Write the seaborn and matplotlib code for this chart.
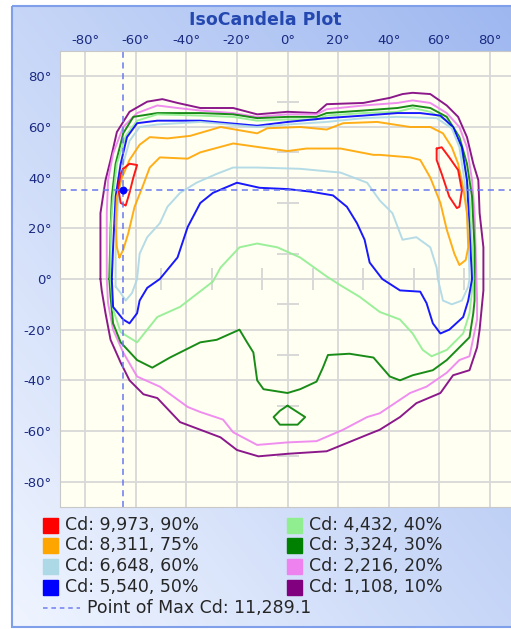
import numpy as np
import pandas as pd
import matplotlib
matplotlib.use("Agg")
import matplotlib.pyplot as plt
from matplotlib.patches import Rectangle
from matplotlib.lines import Line2D
import seaborn as sns

# iso-candela levels (legend order)
levels = [9973, 8311, 6648, 5540, 4432, 3324, 2216, 1108]
percents = [90, 75, 60, 50, 40, 30, 20, 10]
level_colors = ["red", "orange", "lightblue", "blue", "lightgreen", "green", "violet", "purple"]

# point of max candela
max_h, max_v = -65, 35
max_cd = 11289.1

grid_ticks = list(range(-80, 81, 20))
cross_ticks = [-70, -50, -30, -10, 10, 30, 50, 70]

# contour lines, (horizontal deg, vertical deg)
cd_90_left = [(-65, 43.5), (-62.5, 45.5), (-59.5, 45), (-61, 40), (-62.5, 34), (-64, 29),
              (-66, 30), (-67, 36), (-66, 41.5)]
cd_90_right = [(59, 51.5), (61, 52), (64, 48), (67.5, 43), (69, 35), (68, 28.5), (67, 28),
               (64, 32.5), (61, 41.5), (59, 47)]
cd_75 = [(-66.5, 8.5), (-67.5, 12.5), (-68, 22), (-67.5, 32.5), (-65.5, 40), (-62.5, 47),
         (-58.5, 53), (-54.5, 56), (-47.5, 55.5), (-38.5, 56.5), (-26.5, 60), (-12, 57.5),
         (-8, 59.5), (5, 60), (15.5, 59), (22, 61.5), (35.5, 62), (48.5, 60), (56.5, 60),
         (61.5, 57.5), (65, 52), (67.5, 45.5), (69.5, 36), (71, 26), (71.5, 12.5), (70.5, 7.5),
         (68, 5.5), (66, 10), (63, 19.5), (60.5, 30), (56.5, 40), (52.5, 47), (48.5, 48),
         (36.5, 49), (34, 49), (21, 51.5), (7.5, 51.5), (0, 50.5), (-11, 52), (-21.5, 53.5),
         (-34.5, 50), (-39.5, 47.5), (-50.5, 48), (-54.5, 44), (-57.5, 36), (-60.5, 28.5),
         (-63, 18), (-65, 11.5)]
cd_60 = [(-68, -3), (-68, 12.5), (-67, 32.5), (-65, 45.5), (-62.5, 54.5), (-58.5, 60),
         (-51.5, 61), (-34.5, 62), (-12, 60), (0, 61), (15.5, 62), (30, 63.5), (43.5, 64),
         (59, 63.5), (65, 59.5), (68, 52), (70, 39), (71.5, 19.5), (72, 0), (71.5, -3),
         (69, -8.5), (65, -10), (61.5, -8.5), (59.5, 0), (59, 4.5), (56.5, 12.5), (51, 16.5),
         (45.5, 15.5), (41.5, 26), (36.5, 31), (31.5, 38), (21, 42), (5, 43.5), (-12, 44),
         (-21.5, 44), (-28, 41.5), (-36, 38), (-42.5, 34), (-47.5, 28.5), (-50.5, 22),
         (-55.5, 16.5), (-58.5, 10), (-59.5, 0), (-61.5, -5.5), (-64, -8.5), (-66, -5.5)]
cd_50 = [(-69.5, 0), (-69, 12.5), (-68, 32.5), (-66, 45.5), (-63.5, 56), (-59.5, 61.5),
         (-51.5, 62.5), (-34.5, 62.5), (-12, 60.5), (0, 62), (15.5, 63.5), (30, 64.5),
         (43.5, 65.5), (52.5, 65.5), (60.5, 64.5), (65.5, 60), (69, 52), (71, 39), (72, 19.5),
         (73, 0), (71.5, -8.5), (69.5, -15), (64, -20), (60.5, -21.5), (57.5, -17.5), (55, -9.5),
         (52.5, -5), (44.5, -4.5), (37.5, 0), (32.5, 6.5), (30.5, 15.5), (27.5, 22), (23.5, 28.5),
         (18, 33), (9, 34.5), (0, 35.5), (-11, 36), (-20, 38), (-29.5, 34), (-34.5, 30),
         (-39.5, 20.5), (-43.5, 8.5), (-50.5, 0), (-55.5, -3.5), (-58.5, -8.5), (-59.5, -13.5),
         (-62.5, -17.5), (-65, -16), (-69, -11)]
cd_40 = [(-70, 0), (-70, 19.5), (-69, 32.5), (-67.5, 45.5), (-64, 56.5), (-59.5, 62.5),
         (-51.5, 65), (-34.5, 64.5), (-21.5, 64), (-12, 62.5), (0, 63), (11.5, 63), (15.5, 64.5),
         (30, 65.5), (43.5, 66), (49.5, 67.5), (56.5, 66), (63, 62.5), (67.5, 56), (70, 45.5),
         (72, 32.5), (73, 12.5), (73.5, 0), (72, -13.5), (69.5, -21.5), (63, -28), (57, -30.5),
         (53.5, -28), (49.5, -21.5), (44.5, -16), (36.5, -13), (28.5, -7), (21, -2.5), (15.5, 1),
         (5, 8.5), (-4, 12.5), (-12, 14), (-19, 12.5), (-26.5, 4.5), (-29.5, -1), (-42.5, -11),
         (-51.5, -15), (-55.5, -20), (-59.5, -25), (-66, -21), (-69, -12)]
cd_30 = [(-70.5, 0), (-70, 19.5), (-69.5, 32.5), (-68, 45.5), (-65, 57.5), (-61, 64),
         (-51.5, 65.5), (-34.5, 65.5), (-21.5, 65), (-12, 63.5), (0, 64), (11.5, 64), (15.5, 65.5),
         (30, 66.5), (43.5, 67.5), (49.5, 68.5), (56.5, 67.5), (63, 64), (68, 56), (71, 45.5),
         (73, 32.5), (74, 12.5), (74, -8.5), (73.5, -13.5), (72, -23), (68, -27), (63, -32),
         (57.5, -36), (49.5, -38), (44.5, -40), (40.5, -38.5), (34, -31), (24.5, -29.5), (16, -30),
         (14, -35), (11.5, -40.5), (5, -43.5), (0, -45), (-9.5, -43.5), (-12, -40), (-13.5, -29),
         (-16, -25), (-19, -20), (-28, -24), (-34.5, -25), (-38.5, -27), (-46.5, -31),
         (-53.5, -35), (-59.5, -32), (-66, -25), (-69, -17.5), (-70, -7)]
cd_30_island = [(0, -50), (7, -54.5), (4, -57.5), (-3, -57.5), (-5.5, -54.5), (-3, -52)]
cd_20 = [(-71.5, 0), (-71.5, 26), (-71, 39), (-69, 49.5), (-65, 60), (-59.5, 65.5),
         (-51.5, 68.5), (-43.5, 67.5), (-34.5, 66.5), (-21.5, 65.5), (-12, 64), (0, 65),
         (11.5, 65), (15.5, 67), (30, 68.5), (43.5, 69.5), (49.5, 70.5), (56.5, 69.5), (63, 65.5),
         (68, 60), (71, 52), (73, 39), (74, 26), (75, -8.5), (75, -16), (72, -30.5), (68, -32),
         (63, -37), (55, -42.5), (48.5, -45), (36.5, -53), (31.5, -54.5), (22, -59.5),
         (11.5, -64), (0, -64.5), (-12, -65.5), (-21.5, -60.5), (-25.5, -55.5), (-34.5, -52.5),
         (-39.5, -50.5), (-50.5, -42.5), (-59.5, -38.5), (-65, -29), (-69, -20), (-71, -9.5)]
cd_10 = [(-74, 0), (-74, 26), (-72, 39), (-70, 47), (-67.5, 58), (-62.5, 66), (-55.5, 70),
         (-49.5, 71), (-43.5, 69.5), (-34.5, 67.5), (-21.5, 67.5), (-12, 65), (0, 66),
         (11.5, 65.5), (15.5, 69), (30, 69.5), (40.5, 71.5), (45.5, 73), (49.5, 73.5),
         (56.5, 73), (63, 68.5), (67.5, 64), (71, 56), (73.5, 45.5), (75.5, 39), (76, 26),
         (77.5, 12.5), (77.5, -4.5), (76, -20), (75, -27), (72, -36), (65.5, -38), (60.5, -45),
         (51, -49), (44.5, -54.5), (36.5, -59.5), (31.5, -61.5), (15.5, -68), (0, -69),
         (-11.5, -70), (-20, -67.5), (-26.5, -62.5), (-42.5, -56.5), (-51.5, -47), (-57, -45.5),
         (-62.5, -40), (-66, -33), (-70, -24), (-72, -13.5), (-73.5, -4.5)]

contours = [(1108, cd_10), (2216, cd_20), (3324, cd_30), (3324, cd_30_island), (4432, cd_40),
            (5540, cd_50), (6648, cd_60), (8311, cd_75), (9973, cd_90_left), (9973, cd_90_right)]

W, H = 511, 629


def fx(px):
    return px / W


def fy(py):
    return 1 - py / H


def main():
    sns.set_style("white")
    plt.rcParams["font.family"] = ["DejaVu Sans"]

    # closed loops -> long table
    rows = []
    for i, (lvl, pts) in enumerate(contours):
        for h, v in pts + pts[:1]:
            rows.append({"h": h, "v": v, "level": lvl, "loop": i})
    df = pd.DataFrame(rows)

    fig = plt.figure(figsize=(W / 100, H / 100), dpi=100)

    # panel background with a soft blue gradient
    bg = fig.add_axes([0, 0, 1, 1])
    bg.set_xlim(0, W)
    bg.set_ylim(H, 0)
    bg.axis("off")
    gx, gy = np.meshgrid(np.linspace(0, 1, 200), np.linspace(0, 1, 200))
    t = 0.5 * gx + 0.5 * (1 - gy)
    light = np.array([0.94, 0.96, 1.0])
    dark = np.array([0.62, 0.72, 0.94])
    img = light + (dark - light) * t[..., None]
    bg.imshow(img, extent=(12, W, 627, 6), aspect="auto", interpolation="bilinear")
    bg.add_patch(Rectangle((12, 6), W, 621, fill=False, ec="#7F9FEA", lw=1.5))

    fig.text(fx(265), fy(20), "IsoCandela Plot", ha="center", va="center",
             fontsize=12.5, fontweight="bold", color="#2448B0")

    ax = fig.add_axes([fx(60), fy(507), (515 - 60) / W, (507 - 51) / H])
    ax.set_facecolor("#FFFFF2")

    sns.lineplot(data=df, x="h", y="v", hue="level", units="loop", estimator=None, sort=False,
                 palette=dict(zip(levels, level_colors)), legend=False, linewidth=1.4,
                 alpha=0.9, ax=ax)

    # crosshair ticks through the origin
    ax.plot([0] * len(cross_ticks), cross_ticks, ls="none", marker="_", ms=16, mew=1.2,
            color="#D2D2D2", zorder=0.5)
    ax.plot(cross_ticks, [0] * len(cross_ticks), ls="none", marker="|", ms=16, mew=1.2,
            color="#D2D2D2", zorder=0.5)

    # point of max candela
    ax.axvline(max_h, color="#6A78F0", ls=(0, (4, 3)), lw=1.1)
    ax.axhline(max_v, color="#6A78F0", ls=(0, (4, 3)), lw=1.1)
    sns.scatterplot(x=[max_h], y=[max_v], color="blue", s=28, edgecolor=None, ax=ax, zorder=5)

    ax.set_xlim(-90, 90)
    ax.set_ylim(-90, 90)
    ax.set_xticks(grid_ticks)
    ax.set_yticks(grid_ticks)
    ax.set_xticklabels([f"{g}°" for g in grid_ticks])
    ax.set_yticklabels([f"{g}°" for g in grid_ticks])
    ax.xaxis.tick_top()
    ax.tick_params(length=0, labelsize=9.5, labelcolor="#1A2A80")
    ax.tick_params(axis="x", pad=3)
    ax.tick_params(axis="y", pad=6)
    ax.set_xlabel("")
    ax.set_ylabel("")
    ax.grid(True, color="#D8D8D8", lw=1.3)
    ax.set_axisbelow(True)
    for sp in ax.spines.values():
        sp.set_color("#C8C8C8")

    # legend drawn by hand, two columns
    row_y = [525, 545, 566, 587]
    for i, (lvl, pct, c) in enumerate(zip(levels, percents, level_colors)):
        col, row = divmod(i, 4)
        x0 = 43 + col * 244
        y0 = row_y[row]
        fig.add_artist(Rectangle((fx(x0), fy(y0 + 7.5)), 15 / W, 15 / H,
                                 transform=fig.transFigure, color=c))
        fig.text(fx(x0 + 22), fy(y0), f"Cd: {lvl:,}, {pct}%", va="center", fontsize=12.5)
    fig.add_artist(Line2D([fx(43), fx(80)], [fy(608), fy(608)], transform=fig.transFigure,
                          color="#7080F0", lw=1.1, ls=(0, (3, 2.5))))
    fig.text(fx(87), fy(608), f"Point of Max Cd: {max_cd:,.1f}", va="center", fontsize=12.5)

    fig.savefig("out.png", dpi=100)


if __name__ == "__main__":
    main()
